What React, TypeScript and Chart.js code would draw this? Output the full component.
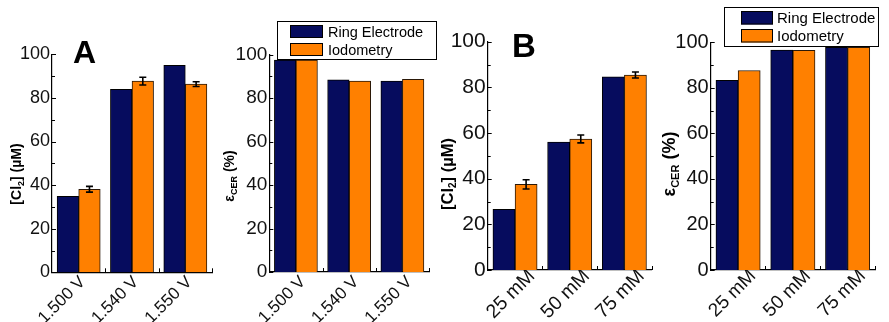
import React, { useEffect, useRef } from 'react';
import { Chart, registerables } from 'chart.js';

Chart.register(...registerables);

// ---------- data ----------
const seriesNames = ['Ring Electrode', 'Iodometry'];
const voltageLabels = ['1.500 V', '1.540 V', '1.550 V'];
const concLabels = ['25 mM', '50 mM', '75 mM'];

const clVoltRing = [34.9, 84.0, 94.9];
const clVoltIodo = [38.1, 87.7, 86.3];
const clVoltIodoErr = [1.3, 1.8, 1.1];

const effVoltRing = [97.5, 88.4, 87.8];
const effVoltIodo = [97.5, 87.8, 88.6];

const clConcRing = [26.6, 56.0, 84.6];
const clConcIodo = [37.5, 57.4, 85.4];
const clConcIodoErr = [2.0, 1.7, 1.3];

const effConcRing = [83.3, 96.6, 97.8];
const effConcIodo = [87.6, 96.5, 97.8];

const yMin = 0;
const yMax = 100;
const yStep = 20;
const yMinorStep = 10;

// ---------- style ----------
const NAVY = '#060c5e';
const ORANGE = '#ff8000';
const FONT = '"Liberation Sans", Arial, Helvetica, sans-serif';
const H = 322;

Chart.defaults.font.family = FONT;
Chart.defaults.color = '#000';

type Part = { t: string; sub?: boolean };

const decorPlugin = {
  id: 'decor',
  afterDatasetsDraw(chart: any, _args: any, o: any) {
    const ctx = chart.ctx;
    const ys = chart.scales.y;
    chart.data.datasets.forEach((ds: any, di: number) => {
      if (!ds.errors) return;
      const meta = chart.getDatasetMeta(di);
      ctx.save();
      ctx.strokeStyle = '#000';
      ctx.lineWidth = 1.6;
      ds.errors.forEach((e: number, i: number) => {
        const el = meta.data[i];
        const v = ds.data[i];
        const x = el.x;
        const y1 = ys.getPixelForValue(v + e);
        const y2 = ys.getPixelForValue(v - e);
        ctx.beginPath();
        ctx.moveTo(x, y1); ctx.lineTo(x, y2);
        ctx.moveTo(x - 3.5, y1); ctx.lineTo(x + 3.5, y1);
        ctx.moveTo(x - 3.5, y2); ctx.lineTo(x + 3.5, y2);
        ctx.stroke();
      });
      ctx.restore();
    });
  },
  afterDraw(chart: any, _args: any, o: any) {
    const ctx = chart.ctx;
    const a = chart.chartArea;
    const ys = chart.scales.y;
    ctx.save();
    // y tick marks (inward)
    ctx.strokeStyle = '#000';
    ctx.lineWidth = 1;
    for (let v = yMin; v <= yMax; v += yMinorStep) {
      const y = Math.round(ys.getPixelForValue(v)) + 0.5;
      const len = v % yStep === 0 ? 4 : 3;
      ctx.beginPath();
      ctx.moveTo(a.left, y);
      ctx.lineTo(a.left + len, y);
      ctx.stroke();
    }
    // x tick marks at category boundaries (inward)
    const n = chart.data.labels.length;
    for (let i = 1; i <= n; i++) {
      const x = Math.round(a.left + (i * (a.right - a.left)) / n) + 0.5;
      ctx.beginPath();
      ctx.moveTo(x, a.bottom);
      ctx.lineTo(x, a.bottom - 4);
      ctx.stroke();
    }
    // axis title with subscripts
    if (o.title) {
      const parts: Part[] = o.title.parts;
      const fs = o.title.size;
      const ss = Math.round(fs * 0.62);
      const w = (p: Part) => {
        ctx.font = `bold ${p.sub ? ss : fs}px ${FONT}`;
        return ctx.measureText(p.t).width;
      };
      const total = parts.reduce((s, p) => s + w(p), 0);
      ctx.translate(o.title.x, o.title.y);
      ctx.rotate(-Math.PI / 2);
      ctx.fillStyle = '#000';
      ctx.textBaseline = 'middle';
      ctx.textAlign = 'left';
      let cx = -total / 2;
      parts.forEach((p) => {
        const pw = w(p);
        ctx.font = `bold ${p.sub ? ss : fs}px ${FONT}`;
        ctx.fillText(p.t, cx, p.sub ? fs * 0.32 : 0);
        cx += pw;
      });
      ctx.setTransform(1, 0, 0, 1, 0, 0);
    }
    // panel letter
    if (o.letter) {
      ctx.fillStyle = '#000';
      ctx.font = `bold ${o.letter.size}px ${FONT}`;
      ctx.textAlign = 'left';
      ctx.textBaseline = 'alphabetic';
      ctx.fillText(o.letter.text, o.letter.x, o.letter.y);
    }
    // legend
    if (o.legend) {
      const L = o.legend;
      ctx.fillStyle = '#fff';
      ctx.fillRect(L.x, L.y, L.w, L.h);
      ctx.strokeStyle = '#000';
      ctx.lineWidth = 1;
      ctx.strokeRect(L.x + 0.5, L.y + 0.5, L.w, L.h);
      chart.data.datasets.forEach((ds: any, i: number) => {
        const ry = L.y + L.rowTop + i * L.rowStep;
        ctx.fillStyle = ds.backgroundColor;
        ctx.fillRect(L.sx, ry, L.sw, L.sh);
        ctx.strokeStyle = '#000';
        ctx.strokeRect(L.sx + 0.5, ry + 0.5, L.sw - 1, L.sh - 1);
        ctx.fillStyle = '#000';
        ctx.font = `${L.fs}px ${FONT}`;
        ctx.textAlign = 'left';
        ctx.textBaseline = 'middle';
        ctx.fillText(ds.label, L.tx, ry + L.sh / 2 + 1);
      });
    }
    ctx.restore();
  },
};

type PanelCfg = {
  left: number;
  width: number;
  area: { l: number; r: number; t: number; b: number };
  labels: string[];
  ring: number[];
  iodo: number[];
  iodoErr?: number[];
  tickSize: number;
  xTickSize: number;
  xPad: number;
  xOffset: number;
  title: { parts: Part[]; size: number; x: number; y: number };
  letter?: { text: string; size: number; x: number; y: number };
  legend?: any;
};

const clTitle: Part[] = [{ t: '[Cl' }, { t: '2', sub: true }, { t: '] (µM)' }];
const effTitle: Part[] = [{ t: 'ε' }, { t: 'CER', sub: true }, { t: ' (%)' }];

const panels: PanelCfg[] = [
  {
    left: 0, width: 220,
    area: { l: 52, r: 212, t: 54.3, b: 272.3 },
    labels: voltageLabels, ring: clVoltRing, iodo: clVoltIodo, iodoErr: clVoltIodoErr,
    tickSize: 18, xTickSize: 17, xPad: 0, xOffset: 4,
    title: { parts: clTitle, size: 14, x: 17, y: 174 },
    letter: { text: 'A', size: 32, x: 73, y: 63 },
  },
  {
    left: 220, width: 220,
    area: { l: 269.3, r: 429, t: 54.5, b: 272 },
    labels: voltageLabels, ring: effVoltRing, iodo: effVoltIodo,
    tickSize: 19, xTickSize: 17, xPad: 0, xOffset: 7,
    title: { parts: effTitle, size: 14, x: 10, y: 176 },
    legend: { x: 57, y: 21, w: 159, h: 38, sx: 70, sw: 33, sh: 13, rowTop: 4, rowStep: 18, tx: 108, fs: 14.5 },
  },
  {
    left: 440, width: 220,
    area: { l: 487.7, r: 651.7, t: 41.7, b: 270 },
    labels: concLabels, ring: clConcRing, iodo: clConcIodo, iodoErr: clConcIodoErr,
    tickSize: 21, xTickSize: 19.5, xPad: -5, xOffset: 17,
    title: { parts: clTitle, size: 16.5, x: 8, y: 174 },
    letter: { text: 'B', size: 33, x: 512, y: 57 },
  },
  {
    left: 660, width: 229,
    area: { l: 710.7, r: 875, t: 42.3, b: 270 },
    labels: concLabels, ring: effConcRing, iodo: effConcIodo,
    tickSize: 20, xTickSize: 19, xPad: -5, xOffset: 15,
    title: { parts: effTitle, size: 18, x: 10, y: 164 },
    legend: { x: 64, y: 7, w: 154, h: 39, sx: 81, sw: 32, sh: 13.5, rowTop: 4, rowStep: 18, tx: 117, fs: 15 },
  },
];

function Panel({ cfg }: { cfg: PanelCfg }) {
  const ref = useRef<HTMLCanvasElement>(null);
  useEffect(() => {
    const c = ref.current!;
    const rel = (x: number) => x - cfg.left;
    const chart = new Chart(c, {
      type: 'bar',
      data: {
        labels: cfg.labels,
        datasets: [
          {
            label: seriesNames[0], data: cfg.ring, backgroundColor: NAVY,
            borderColor: '#000', borderWidth: 1, categoryPercentage: 0.81, barPercentage: 1,
            inflateAmount: 0.3,
          } as any,
          {
            label: seriesNames[1], data: cfg.iodo, backgroundColor: ORANGE,
            borderColor: '#2a1808', borderWidth: 1, categoryPercentage: 0.81, barPercentage: 1,
            inflateAmount: 0.3,
            errors: cfg.iodoErr,
          } as any,
        ],
      },
      options: {
        responsive: false,
        animation: false,
        devicePixelRatio: 1,
        layout: {
          padding: { left: 0, right: cfg.width - rel(cfg.area.r), top: cfg.area.t, bottom: 0 },
        },
        plugins: {
          legend: { display: false },
          tooltip: { enabled: false },
          decor: {
            title: { ...cfg.title },
            letter: cfg.letter ? { ...cfg.letter, x: rel(cfg.letter.x) } : undefined,
            legend: cfg.legend,
          },
        } as any,
        scales: {
          x: {
            grid: { display: false, drawTicks: false },
            border: { display: true, color: '#000', width: 1.2 },
            ticks: {
              maxRotation: 45, minRotation: 45, autoSkip: false,
              font: { size: cfg.xTickSize }, color: '#111', padding: cfg.xPad,
              labelOffset: cfg.xOffset,
            },
            afterFit: (s: any) => {
              s.height = H - cfg.area.b;
              s.paddingLeft = 0; s.paddingRight = 0; s.paddingTop = 0; s.paddingBottom = 0;
            },
          },
          y: {
            min: yMin, max: yMax,
            grid: { display: false, drawTicks: false },
            border: { display: true, color: '#000', width: 1.2 },
            ticks: { stepSize: yStep, font: { size: cfg.tickSize }, color: '#111', padding: 2 },
            afterFit: (s: any) => {
              s.width = rel(cfg.area.l);
              s.paddingLeft = 0; s.paddingRight = 0; s.paddingTop = 0; s.paddingBottom = 0;
            },
          },
        },
      },
      plugins: [decorPlugin as any],
    });
    return () => chart.destroy();
  }, []);
  return (
    <canvas
      ref={ref}
      width={cfg.width}
      height={H}
      style={{ position: 'absolute', left: cfg.left, top: 0, width: cfg.width, height: H }}
    />
  );
}

export default function App() {
  return (
    <div style={{ position: 'absolute', left: 0, top: 0, width: 889, height: H, background: '#fff' }}>
      {panels.map((p, i) => (
        <Panel key={i} cfg={p} />
      ))}
    </div>
  );
}
